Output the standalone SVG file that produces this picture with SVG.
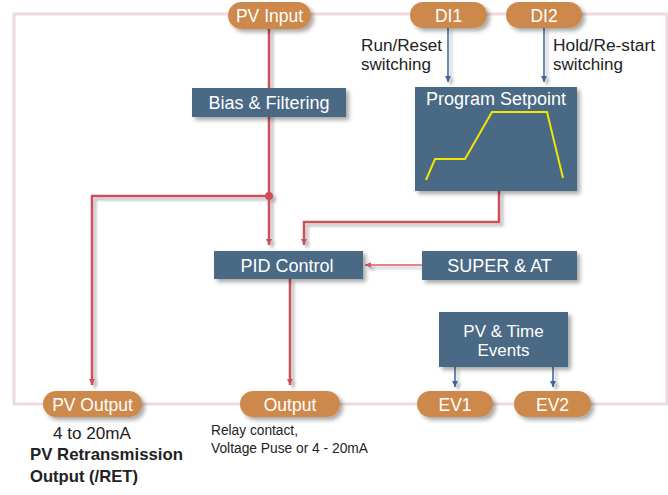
<svg xmlns="http://www.w3.org/2000/svg" width="668" height="495" viewBox="0 0 668 495">
<defs>
<filter id="sh" x="-20%" y="-20%" width="150%" height="160%">
<feGaussianBlur in="SourceAlpha" stdDeviation="2"/>
<feOffset dx="3" dy="3" result="b"/>
<feComponentTransfer><feFuncA type="linear" slope="0.35"/></feComponentTransfer>
<feMerge><feMergeNode/><feMergeNode in="SourceGraphic"/></feMerge>
</filter>
<filter id="lsh" filterUnits="userSpaceOnUse" x="0" y="0" width="668" height="495">
<feGaussianBlur in="SourceAlpha" stdDeviation="1.5"/>
<feOffset dx="3" dy="3" result="b"/>
<feComponentTransfer><feFuncA type="linear" slope="0.3"/></feComponentTransfer>
<feMerge><feMergeNode/><feMergeNode in="SourceGraphic"/></feMerge>
</filter>
<marker id="ar" viewBox="0 0 10 10" refX="10" refY="5" markerWidth="6" markerHeight="7" orient="auto" markerUnits="userSpaceOnUse"><path d="M0,0 L10,5 L0,10 z" fill="#cc4f5a"/></marker>
<marker id="ab" viewBox="0 0 10 10" refX="10" refY="5" markerWidth="6" markerHeight="7" orient="auto" markerUnits="userSpaceOnUse"><path d="M0,0 L10,5 L0,10 z" fill="#3d63a0"/></marker>
<marker id="al" viewBox="0 0 10 10" refX="10" refY="5" markerWidth="6" markerHeight="7" orient="auto" markerUnits="userSpaceOnUse"><path d="M0,0 L10,5 L0,10 z" fill="#d4606b"/></marker>
</defs>
<style>
.pill{fill:#cd894b;filter:url(#sh)}
.box{fill:#4a6985;filter:url(#sh)}
.wt{fill:#ffffff;font-family:"Liberation Sans",Arial,sans-serif;font-size:17.5px;text-anchor:middle}
.bt{fill:#ffffff;font-family:"Liberation Sans",Arial,sans-serif;font-size:18px;text-anchor:middle}
.lbl{fill:#222;font-family:"Liberation Sans",Arial,sans-serif;font-size:16px}
.red{fill:none;stroke:#cc4f5a;stroke-width:2.5}
.blue{fill:none;stroke:#3d63a0;stroke-width:1.5}
</style>
<rect x="14" y="14" width="653" height="390" fill="none" stroke="#f0d9dd" stroke-width="3"/>
<g id="connectors">
<g filter="url(#lsh)">
<path class="red" d="M269,29 V245" marker-end="url(#ar)"/>
<path class="red" d="M269,196 H92 V385" marker-end="url(#ar)"/>
<circle cx="269" cy="196" r="4" fill="#cc4f5a"/>
<path class="red" d="M499,191 V222 H304 V245" marker-end="url(#ar)"/>
<path class="red" d="M290,279 V385" marker-end="url(#ar)"/>
<path d="M422,265 H365" stroke="#d4606b" stroke-width="1.5" fill="none" marker-end="url(#al)"/>
<path class="blue" d="M448,27 V82" marker-end="url(#ab)"/>
<path class="blue" d="M544,27 V82" marker-end="url(#ab)"/>
<path class="blue" d="M455,367 V387" marker-end="url(#ab)"/>
<path class="blue" d="M553,367 V387" marker-end="url(#ab)"/>
</g>
</g>
<g id="pv-input"><rect class="pill" x="228" y="2" width="83" height="27" rx="13.5"/><text class="wt" x="269.5" y="22">PV Input</text></g>
<g id="di1"><rect class="pill" x="410" y="2" width="77" height="26" rx="13"/><text class="wt" x="448.5" y="21.5">DI1</text></g>
<g id="di2"><rect class="pill" x="506" y="2" width="76" height="26" rx="13"/><text class="wt" x="544" y="21.5">DI2</text></g>
<g id="bias"><rect class="box" x="192" y="88" width="154" height="29"/><text class="bt" x="269" y="109">Bias &amp; Filtering</text></g>
<g id="program-setpoint"><rect class="box" x="415" y="87" width="162" height="104"/><text class="bt" x="496" y="105">Program Setpoint</text>
<polyline points="426,180 435,159 465,159 492,112 547,112 563,178" fill="none" stroke="#f5e400" stroke-width="2"/></g>
<g id="pid"><rect class="box" x="214" y="251" width="149" height="28"/><text class="bt" x="287" y="272">PID Control</text></g>
<g id="super"><rect class="box" x="422" y="251" width="155" height="29"/><text class="bt" x="499.5" y="272">SUPER &amp; AT</text></g>
<g id="events"><rect class="box" x="439" y="312" width="129" height="55"/><text class="bt" x="503.5" y="337" style="font-size:17px">PV &amp; Time</text><text class="bt" x="503.5" y="356" style="font-size:17px">Events</text></g>
<g id="pv-output"><rect class="pill" x="43" y="391" width="99" height="26" rx="13"/><text class="wt" x="92.5" y="410.5">PV Output</text></g>
<g id="output"><rect class="pill" x="240" y="391" width="100" height="26" rx="13"/><text class="wt" x="290" y="410.5">Output</text></g>
<g id="ev1"><rect class="pill" x="417" y="391" width="76" height="26" rx="13"/><text class="wt" x="455" y="410.5">EV1</text></g>
<g id="ev2"><rect class="pill" x="514" y="391" width="77" height="26" rx="13"/><text class="wt" x="552.5" y="410.5">EV2</text></g>
<g id="labels">
<text class="lbl" x="361" y="51" textLength="81" lengthAdjust="spacingAndGlyphs">Run/Reset</text>
<text class="lbl" x="361" y="70" textLength="70" lengthAdjust="spacingAndGlyphs">switching</text>
<text class="lbl" x="553" y="51" textLength="102" lengthAdjust="spacingAndGlyphs">Hold/Re-start</text>
<text class="lbl" x="553" y="70" textLength="70" lengthAdjust="spacingAndGlyphs">switching</text>
<text class="lbl" x="53" y="439" textLength="78" lengthAdjust="spacingAndGlyphs">4 to 20mA</text>
<text class="lbl" x="30" y="460" style="font-weight:bold;font-size:17px" textLength="153" lengthAdjust="spacingAndGlyphs">PV Retransmission</text>
<text class="lbl" x="30" y="482" style="font-weight:bold;font-size:17px" textLength="108" lengthAdjust="spacingAndGlyphs">Output (/RET)</text>
<text class="lbl" x="211" y="435" style="font-size:14px" textLength="87" lengthAdjust="spacingAndGlyphs">Relay contact,</text>
<text class="lbl" x="211" y="453" style="font-size:14px" textLength="157" lengthAdjust="spacingAndGlyphs">Voltage Puse or 4 - 20mA</text>
</g>
</svg>
